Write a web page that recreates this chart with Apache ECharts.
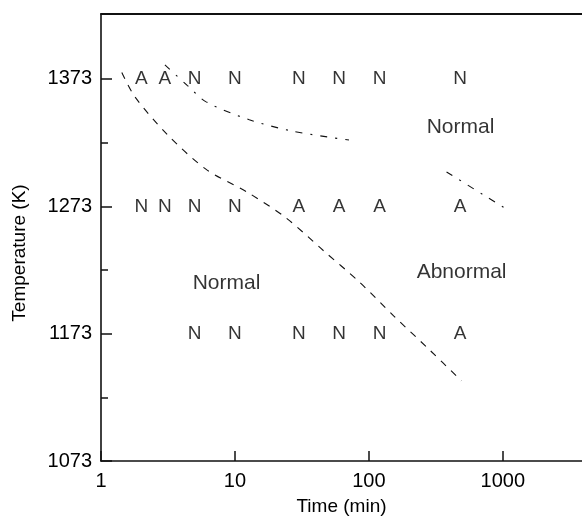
<!DOCTYPE html>
<html><head><meta charset="utf-8">
<script src="https://cdn.jsdelivr.net/npm/echarts@6/dist/echarts.min.js"></script>
<style>html,body{margin:0;padding:0;background:#fff}#c{width:582px;height:521px}</style>
</head><body><div id="c"></div>
<script>
// Axis ticks
const xTicks = [1, 10, 100, 1000];
const yLabelTicks = [1073, 1173, 1273, 1373];
const yMinorTicks = [1123, 1223, 1323];

// Observations: [time (min), result] at each temperature (K)
const row1373 = [[2,'A'],[3,'A'],[5,'N'],[10,'N'],[30,'N'],[60,'N'],[120,'N'],[480,'N']];
const row1273 = [[2,'N'],[3,'N'],[5,'N'],[10,'N'],[30,'A'],[60,'A'],[120,'A'],[480,'A']];
const row1173 = [[5,'N'],[10,'N'],[30,'N'],[60,'N'],[120,'N'],[480,'A']];

// Boundary curves [time, temperature]
const boundaryLower = [[1.43,1378],[1.79,1359],[3.15,1329],[6.1,1302],[12.4,1284],[24,1264],[46,1238],[84,1214],[153,1187],[279,1161],[490,1136]];
const boundaryUpper = [[3.0,1384],[4.4,1368],[6.1,1355],[12.8,1341],[27,1332],[71,1325]];
const boundaryRight = [[380,1300],[716,1282],[1137,1269]];

// Region labels [time, temperature, text]
const regionLabels = [[8.65,1213,'Normal'],[483,1335,'Normal'],[492,1221,'Abnormal']];

const FONT = 'Liberation Sans, Arial, Helvetica, sans-serif';
const INK = '#000';
const LINE = '#111';

function obs(row, T){ return row.map(r => ({value:[r[0], T], label:{formatter:r[1]}})); }
const obsData = [].concat(obs(row1373,1373), obs(row1273,1273), obs(row1173,1173));

const chart = echarts.init(document.getElementById('c'), null, {renderer:'canvas'});
const yCommon = {
  type:'value', min:1073, max:1424, position:'left',
  splitLine:{show:false}
};
const xCommon = {type:'log', logBase:10, min:1, max:3900, splitLine:{show:false}, minorTick:{show:false}};
chart.setOption({
  animation:false,
  backgroundColor:'#fff',
  grid:{left:101, top:14, right:-6, bottom:56, show:false},
  xAxis:[
    Object.assign({}, xCommon, {
      position:'bottom',
      name:'Time (min)', nameLocation:'middle', nameGap:36,
      nameTextStyle:{fontFamily:FONT, fontSize:19, color:INK},
      axisLine:{show:true, lineStyle:{color:LINE, width:1.6}},
      axisTick:{show:true, inside:true, length:10, lineStyle:{color:LINE, width:1.5}, customValues: xTicks},
      axisLabel:{fontFamily:FONT, fontSize:20, color:INK, margin:10, customValues: xTicks, formatter: v => String(v)}
    }),
    Object.assign({}, xCommon, {
      position:'top',
      axisLine:{show:true, lineStyle:{color:LINE, width:1.8}},
      axisTick:{show:false}, axisLabel:{show:false}
    })
  ],
  yAxis:[
    Object.assign({}, yCommon, {
      axisLine:{show:true, lineStyle:{color:LINE, width:1.6}},
      axisTick:{show:true, inside:true, length:11, lineStyle:{color:LINE, width:1.5}, customValues: yLabelTicks},
      axisLabel:{fontFamily:FONT, fontSize:20, color:INK, margin:9, customValues: yLabelTicks, formatter: v => String(v)}
    }),
    Object.assign({}, yCommon, {
      axisLine:{show:false},
      axisTick:{show:true, inside:true, length:7, lineStyle:{color:LINE, width:1.5}, customValues: yMinorTicks},
      axisLabel:{show:false}
    })
  ],
  graphic:[{type:'text', x:20, y:253, rotation:Math.PI/2,
    style:{text:'Temperature (K)', fontFamily:FONT, fontSize:19, fill:INK, align:'center', verticalAlign:'middle'}}],
  series:[
    {type:'line', data:boundaryLower, symbol:'none', smooth:0.3, lineStyle:{color:LINE, width:1.1, type:[7,7]}},
    {type:'line', data:boundaryUpper, symbol:'none', smooth:0.3, lineStyle:{color:LINE, width:1.1, type:[7,8,2,8]}},
    {type:'line', data:boundaryRight, symbol:'none', smooth:0.3, lineStyle:{color:LINE, width:1.1, type:[7,8,2,8]}},
    {type:'scatter', data:obsData, symbolSize:0,
      label:{show:true, position:'inside', fontFamily:FONT, fontSize:19, color:INK}},
    {type:'scatter', data:regionLabels.map(r => ({value:[r[0], r[1]], label:{formatter:r[2]}})), symbolSize:0,
      label:{show:true, position:'inside', fontFamily:FONT, fontSize:21, color:INK}}
  ]
});
</script></body></html>
